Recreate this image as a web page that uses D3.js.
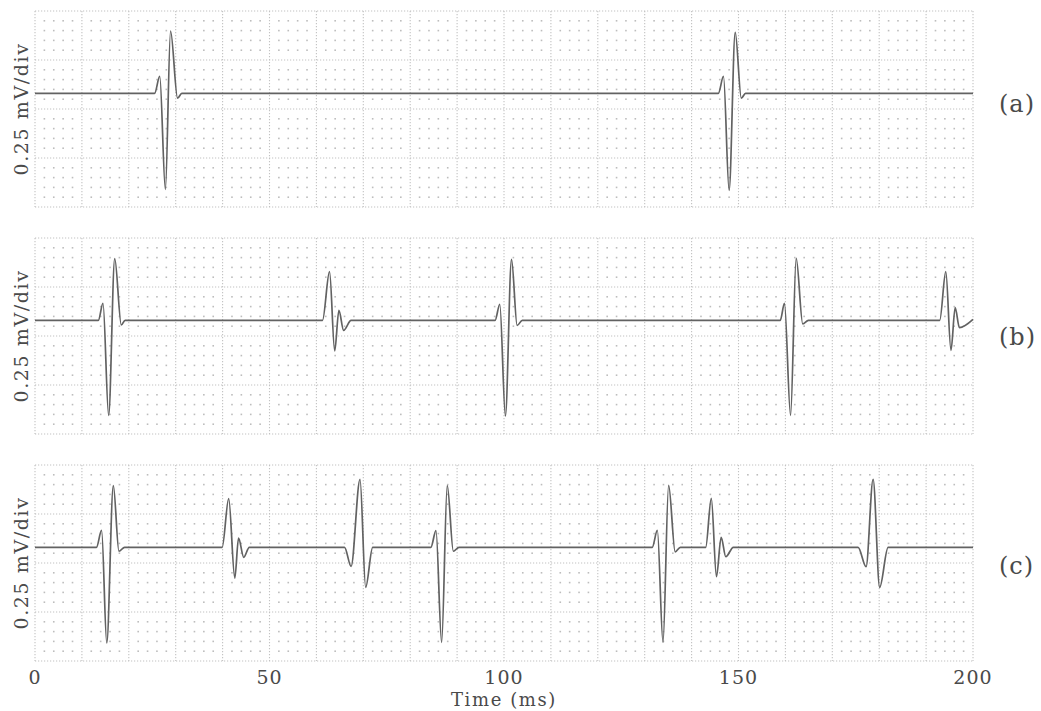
<!DOCTYPE html>
<html>
<head>
<meta charset="utf-8">
<script src="https://cdn.jsdelivr.net/npm/d3@7/dist/d3.min.js"></script>
<style>
  html, body { margin: 0; padding: 0; background: #ffffff; }
  svg { display: block; }
  text { font-family: "DejaVu Serif", "Liberation Serif", serif; fill: #4a4a4a; }
</style>
</head>
<body>
<svg id="chart" width="1041" height="711"></svg>
<script>
// Time axis ticks (ms) and panel captions
const timeTicks = [0, 50, 100, 150, 200];
const panelLabels = ["(a)", "(b)", "(c)"];
const scaleLabel = "0.25 mV/div";
const axisTitle = "Time (ms)";

// Trace vertices [time (ms), amplitude (mV)], baseline = 0
const traceA = [
  [0, 0], [25.5, 0], [26.6, 0.087], [27.8, -0.490], [28.9, 0.318], [30.4, -0.025], [31.3, 0],
  [145.7, 0], [146.8, 0.087], [148.0, -0.495], [149.3, 0.311], [150.6, -0.025], [151.5, 0],
  [200, 0]
];

const traceB = [
  [0, 0], [13.5, 0], [14.5, 0.087], [15.7, -0.485], [17.0, 0.315], [18.4, -0.024], [19.2, 0],
  [61.3, 0], [62.8, 0.248], [63.9, -0.156], [64.8, 0.051], [65.8, -0.051], [67.4, 0],
  [98.1, 0], [99.1, 0.082], [100.3, -0.488], [101.6, 0.311], [102.8, -0.026], [103.9, 0],
  [158.9, 0], [159.8, 0.087], [161.1, -0.485], [162.3, 0.316], [163.7, -0.018], [164.9, 0],
  [192.9, 0], [194.2, 0.248], [195.3, -0.153], [196.2, 0.065], [197.1, -0.037], [200, 0.005]
];

const traceC = [
  [0, 0], [13.1, 0], [14.2, 0.087], [15.3, -0.488], [16.7, 0.315], [17.9, -0.020], [19.1, 0],
  [39.9, 0], [41.3, 0.248], [42.6, -0.157], [43.4, 0.047], [44.5, -0.051], [45.7, 0],
  [66.0, 0], [67.4, -0.097], [69.3, 0.347], [70.5, -0.204], [72.0, 0],
  [84.4, 0], [85.5, 0.085], [86.7, -0.485], [87.9, 0.315], [89.2, -0.020], [90.4, 0],
  [131.6, 0], [132.7, 0.087], [133.9, -0.485], [135.1, 0.316], [136.5, -0.023], [137.6, 0],
  [143.0, 0], [144.2, 0.250], [145.3, -0.150], [146.3, 0.051], [147.3, -0.048], [148.9, 0],
  [175.5, 0], [177.2, -0.099], [178.7, 0.347], [180.1, -0.204], [181.9, 0],
  [200, 0]
];

const traces = [traceA, traceB, traceC];

// Amplitude window shown in each panel (mV): 4 divisions of 0.25 mV
const ampDomain = [-0.58, 0.42];
const majorAmp = 0.25, minorAmp = 0.05;
const majorTime = 10, minorTime = 2;

// Layout
const svg = d3.select("#chart");
const left = 35, right = 973;
const panelTops = [11, 238, 465];
const panelH = 196;
const labelY = [104, 337, 566];

const x = d3.scaleLinear().domain([0, 200]).range([left, right]);

const gridColor = "#c2c2c2";
const dotColor = "#bdbdbd";

traces.forEach((trace, i) => {
  const top = panelTops[i];
  const y = d3.scaleLinear().domain(ampDomain).range([top + panelH, top]);
  const g = svg.append("g");

  // amplitude grid values, counted down from the top of the window
  const nMinorRows = Math.round((ampDomain[1] - ampDomain[0]) / minorAmp);
  const rowVals = d3.range(nMinorRows + 1).map(j => ampDomain[1] - j * minorAmp);
  const step = Math.round(majorAmp / minorAmp);
  const majorRows = rowVals.filter((v, j) => j % step === 0);
  const minorRows = rowVals.filter((v, j) => j % step !== 0);

  const colVals = d3.range(0, 200 + 1e-9, minorTime);
  const majorCols = colVals.filter(t => Math.abs(t % majorTime) < 1e-9);
  const minorCols = colVals.filter(t => Math.abs(t % majorTime) > 1e-9);

  // minor grid: dots at minor intersections
  const dots = [];
  minorRows.forEach(v => minorCols.forEach(t => dots.push([t, v])));
  g.append("g").selectAll("rect").data(dots).join("rect")
    .attr("x", d => x(d[0]) - 0.8)
    .attr("y", d => y(d[1]) - 0.8)
    .attr("width", 1.6).attr("height", 1.6)
    .attr("fill", dotColor);

  // major grid: densely dotted lines
  g.append("g").selectAll("line").data(majorRows).join("line")
    .attr("x1", left).attr("x2", right)
    .attr("y1", d => y(d)).attr("y2", d => y(d))
    .attr("stroke", gridColor).attr("stroke-width", 1.1)
    .attr("stroke-dasharray", "1.2,1.8");
  g.append("g").selectAll("line").data(majorCols).join("line")
    .attr("y1", top).attr("y2", top + panelH)
    .attr("x1", d => x(d)).attr("x2", d => x(d))
    .attr("stroke", gridColor).attr("stroke-width", 1.1)
    .attr("stroke-dasharray", "1.2,1.8");

  // signal trace
  const line = d3.line()
    .x(d => x(d[0]))
    .y(d => y(d[1]))
    .curve(d3.curveMonotoneX);
  g.append("path")
    .datum(trace)
    .attr("d", line)
    .attr("fill", "none")
    .attr("stroke", "#626262")
    .attr("stroke-width", 1.7)
    .attr("stroke-linejoin", "round");

  // vertical scale caption
  g.append("text")
    .attr("transform", `translate(28,${top + panelH / 2}) rotate(-90)`)
    .attr("text-anchor", "middle")
    .attr("font-size", 19)
    .attr("letter-spacing", 1.6)
    .text(scaleLabel);

  // panel tag
  g.append("text")
    .attr("x", 999)
    .attr("y", labelY[i])
    .attr("dominant-baseline", "central")
    .attr("font-size", 24)
    .attr("letter-spacing", 1)
    .text(panelLabels[i]);
});

// time axis labels below the last panel
const axisG = svg.append("g");
axisG.selectAll("text.tick").data(timeTicks).join("text")
  .attr("class", "tick")
  .attr("x", d => x(d))
  .attr("y", 684)
  .attr("text-anchor", "middle")
  .attr("font-size", 19)
  .attr("letter-spacing", 1)
  .text(d => d);

axisG.append("text")
  .attr("x", (left + right) / 2)
  .attr("y", 706)
  .attr("text-anchor", "middle")
  .attr("font-size", 18)
  .attr("letter-spacing", 1.6)
  .text(axisTitle);
</script>
</body>
</html>
